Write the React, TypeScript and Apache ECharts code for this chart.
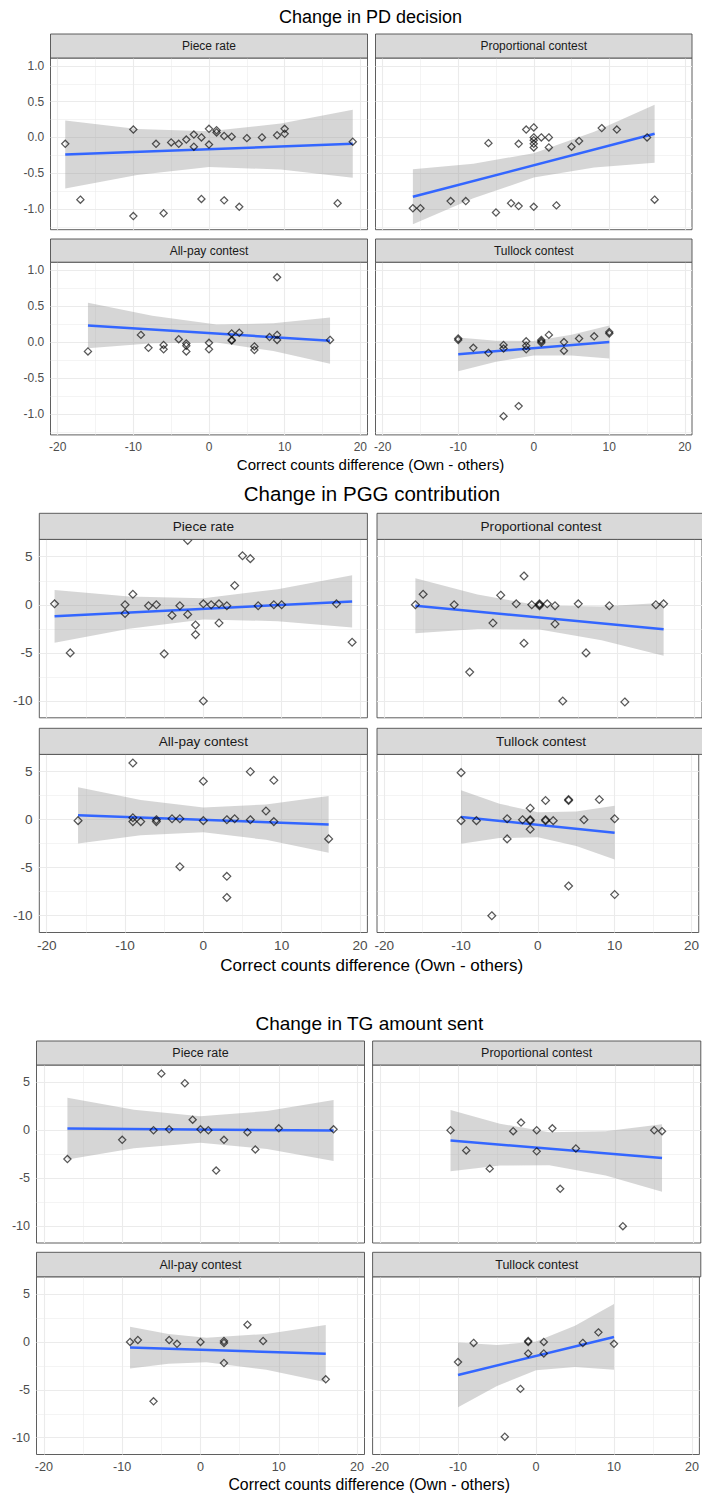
import React, { useEffect, useRef } from "react";
import * as echarts from "echarts";

const FONT = '"Liberation Sans", Arial, Helvetica, sans-serif';

// ---- axis ticks / labels ----
const xTickValues = [-20, -10, 0, 10, 20];
const xMinorValues = [-15, -5, 5, 15];
const pdTickValues = [-1, -0.5, 0, 0.5, 1];
const pdMinorValues = [-1.25, -0.75, -0.25, 0.25, 0.75];
const moneyTickValues = [-10, -5, 0, 5];
const moneyMinorValues = [-7.5, -2.5, 2.5];

const facetLabels = ["Piece rate", "Proportional contest", "All-pay contest", "Tullock contest"];
const figureTitles = ["Change in PD decision", "Change in PGG contribution", "Change in TG amount sent"];
const xAxisTitle = "Correct counts difference (Own - others)";

// ---- Figure 1: PD decision ----
const pdPiecePts = [[-19,-0.09],[-17,-0.87],[-10,0.11],[-10,-1.1],[-7,-0.09],[-6,-1.06],[-5,-0.07],[-4,-0.09],[-3,-0.03],[-2,0.04],[-2,-0.13],[-1,0.0],[-1,-0.86],[0,0.12],[0,-0.1],[1,0.1],[1,0.07],[2,-0.88],[2,0.02],[3,0.01],[4,-0.97],[5,-0.01],[7,0.0],[9,0.03],[10,0.12],[10,0.05],[17,-0.92],[19,-0.06]];
const pdPieceFit = [[-19,-0.24],[19,-0.09]];
const pdPieceBandX = [-19,-9.5,0,9.5,19];
const pdPieceBandHi = [0.235,0.119,0.085,0.194,0.385];
const pdPieceBandLo = [-0.715,-0.524,-0.415,-0.449,-0.565];

const pdPropPts = [[-16,-0.99],[-15,-0.99],[-11,-0.89],[-9,-0.89],[-6,-0.08],[-5,-1.05],[-3,-0.92],[-2,-0.09],[-2,-0.96],[-1,0.11],[0,0.14],[0,0.0],[0,-0.04],[0,-0.09],[0,-0.14],[0,-0.97],[1,0.0],[2,0.0],[2,-0.14],[3,-0.95],[5,-0.13],[6,-0.05],[9,0.13],[11,0.11],[15,0.0],[16,-0.87]];
const pdPropFit = [[-16,-0.83],[16,0.05]];
const pdPropBandX = [-16,-8,0,8,16];
const pdPropBandHi = [-0.445,-0.368,-0.22,0.08,0.455];
const pdPropBandLo = [-1.215,-0.852,-0.56,-0.42,-0.355];

const pdAllPts = [[-16,-0.13],[-9,0.1],[-8,-0.08],[-6,-0.04],[-6,-0.1],[-4,0.04],[-3,-0.02],[-3,-0.05],[-3,-0.13],[0,-0.01],[0,-0.1],[3,0.12],[3,0.03],[3,0.02],[4,0.13],[6,-0.06],[6,-0.11],[8,0.07],[9,0.9],[9,0.1],[9,0.03],[16,0.03]];
const pdAllFit = [[-16,0.23],[16,0.02]];
const pdAllBandX = [-16,-7.5,1,8.5,16];
const pdAllBandHi = [0.545,0.365,0.243,0.262,0.34];
const pdAllBandLo = [-0.085,-0.017,-0.007,-0.124,-0.3];

const pdTullPts = [[-10,0.05],[-10,0.03],[-8,-0.08],[-6,-0.15],[-4,-0.04],[-4,-0.09],[-4,-1.03],[-2,-0.89],[-1,0.01],[-1,-0.05],[-1,-0.1],[1,0.01],[1,0.03],[1,-0.01],[2,0.1],[4,0.0],[4,-0.12],[6,0.05],[8,0.08],[10,0.14],[10,0.12]];
const pdTullFit = [[-10,-0.17],[10,0.0]];
const pdTullBandX = [-10,-5,0,5,10];
const pdTullBandHi = [0.065,0.019,0.015,0.102,0.23];
const pdTullBandLo = [-0.405,-0.274,-0.185,-0.187,-0.23];

// ---- Figure 2: PGG contribution ----
const pggPiecePts = [[-19,0.1],[-17,-5],[-10,-0.9],[-10,0],[-9,1.1],[-7,-0.1],[-6,0],[-5,-5.1],[-4,-1.1],[-3,-0.1],[-2,6.7],[-2,-1.0],[-1,-2.1],[-1,-3.1],[0,0.1],[0,-10],[1,0],[2,0.1],[2,-1.9],[3,-0.1],[4,2.0],[5,5.1],[6,4.8],[7,-0.1],[9,0.0],[10,0],[17,0.1],[19,-3.9]];
const pggPieceFit = [[-19,-1.2],[19,0.35]];
const pggPieceBandX = [-19,-9.5,0,9.5,19];
const pggPieceBandHi = [1.54,0.856,0.675,1.623,3.07];
const pggPieceBandLo = [-3.94,-2.48,-1.525,-1.698,-2.37];

const pggPropPts = [[-16,0],[-15,1.1],[-11,0],[-9,-7],[-6,-1.9],[-5,1.0],[-3,0.1],[-2,3.0],[-2,-4],[-1,0],[0,0],[0,0.1],[0,-0.1],[1,0.1],[2,-2.0],[2,-0.1],[3,-10],[5,0.1],[6,-5],[9,-0.1],[11,-10.1],[15,0],[16,0.1]];
const pggPropFit = [[-16,-0.1],[16,-2.55]];
const pggPropBandX = [-16,-8,0,8,16];
const pggPropBandHi = [2.76,1.08,-0.075,-0.19,0.2];
const pggPropBandLo = [-2.96,-2.51,-2.575,-3.69,-5.3];

const pggAllPts = [[-16,-0.1],[-9,5.9],[-9,0.2],[-9,-0.2],[-8,-0.2],[-6,0],[-6,-0.2],[-4,0.1],[-3,0.1],[-3,-4.9],[0,4.0],[0,-0.1],[3,0],[3,-5.9],[3,-8.1],[4,0.1],[6,5.0],[6,0],[8,0.9],[9,4.1],[9,-0.2],[16,-2.0]];
const pggAllFit = [[-16,0.45],[16,-0.49]];
const pggAllBandX = [-16,-8,0,8,16];
const pggAllBandHi = [3.39,2.056,1.26,1.59,2.46];
const pggAllBandLo = [-2.49,-1.626,-1.3,-2.1,-3.44];

const pggTullPts = [[-10,4.9],[-10,-0.1],[-8,-0.1],[-6,-10],[-4,-2.0],[-4,0.1],[-2,0],[-1,1.2],[-1,0],[-1,-0.1],[-1,-1.0],[1,2.0],[1,0],[1,-0.1],[2,-0.1],[4,2.1],[4,2.0],[4,-6.9],[6,0],[8,2.1],[10,0.1],[10,-7.8]];
const pggTullFit = [[-10,0.28],[10,-1.35]];
const pggTullBandX = [-10,-5,0,5,10];
const pggTullBandHi = [3.06,1.66,0.765,0.855,1.45];
const pggTullBandLo = [-2.5,-1.92,-1.835,-2.74,-4.15];

// ---- Figure 3: TG amount sent ----
const tgPiecePts = [[-17,-3.0],[-10,-1.0],[-6,0.0],[-5,5.9],[-4,0.1],[-2,4.9],[-1,1.1],[0,0.1],[1,0.0],[2,-4.2],[3,-1.0],[6,-0.2],[7,-2.0],[10,0.2],[17,0.1]];
const tgPieceFit = [[-17,0.17],[17,-0.03]];
const tgPieceBandX = [-17,-8.5,0,8.5,17];
const tgPieceBandHi = [3.39,2.125,1.45,2.005,3.14];
const tgPieceBandLo = [-3.05,-1.885,-1.31,-1.965,-3.2];

const tgPropPts = [[-11,0.0],[-9,-2.1],[-6,-4.0],[-3,-0.1],[-2,0.8],[0,0.0],[0,-2.2],[2,0.2],[3,-6.1],[5,-1.9],[11,-10],[15,0.0],[16,-0.1]];
const tgPropFit = [[-11,-1.08],[16,-2.89]];
const tgPropBandX = [-11,-4.7,1.6,8.8,16];
const tgPropBandHi = [2.11,0.68,-0.205,-0.1,0.63];
const tgPropBandLo = [-4.27,-3.684,-3.645,-4.713,-6.41];

const tgAllPts = [[-9,0.0],[-8,0.2],[-6,-6.2],[-4,0.2],[-3,-0.2],[0,0.0],[3,-0.1],[3,-2.2],[3,0.1],[6,1.8],[8,0.1],[16,-3.9]];
const tgAllFit = [[-9,-0.59],[16,-1.22]];
const tgAllBandX = [-9,-4.1,0.75,8.4,16];
const tgAllBandHi = [1.59,0.841,0.444,0.837,1.78];
const tgAllBandLo = [-2.77,-2.267,-2.116,-2.893,-4.22];

const tgTullPts = [[-10,-2.1],[-8,-0.1],[-4,-9.9],[-2,-4.9],[-1,0.1],[-1,0.0],[-1,-1.2],[1,-1.2],[1,0.0],[6,-0.1],[8,1.0],[10,-0.2]];
const tgTullFit = [[-10,-3.45],[10,0.52]];
const tgTullBandX = [-10,-5,0,5,10];
const tgTullBandHi = [-0.07,-0.327,0.035,1.679,3.95];
const tgTullBandLo = [-6.83,-4.589,-2.965,-2.624,-2.91];

// ---- layout (positions / sizes / styles) ----
const X_MIN = -20.95;
const X_MAX = 20.95;

const LAYOUT = [
  { titleX: 370.5, titleY: 17, titleSize: 18, axisTitleX: 370.5, axisTitleY: 464, axisTitleSize: 15, stripSize: 12, tickSize: 12,
    cols: [[50.5, 367.5], [375.5, 692]], rows: [[34, 58, 229.7], [239, 262.2, 434.9]],
    yMin: -1.29, yMax: 1.11, yTicks: pdTickValues, yMinor: pdMinorValues, digits: 1, sym: 7.2, tick: 3.8 },
  { titleX: 372, titleY: 493, titleSize: 20.5, axisTitleX: 371.7, axisTitleY: 965, axisTitleSize: 17, stripSize: 13.6, tickSize: 13.6,
    cols: [[39.3, 367.4], [377, 705]], rows: [[513.3, 539.4, 717.8], [728.3, 754.4, 932.5]],
    yMin: -11.75, yMax: 6.8, yTicks: moneyTickValues, yMinor: moneyMinorValues, digits: 0, sym: 7.8, tick: 4.2 },
  { titleX: 369.3, titleY: 1023, titleSize: 19, axisTitleX: 369.2, axisTitleY: 1484, axisTitleSize: 15.8, stripSize: 12.5, tickSize: 12.6,
    cols: [[36.5, 364.5], [372.6, 700.8]], rows: [[1041, 1065, 1243], [1252.3, 1276.8, 1454.5]],
    yMin: -11.75, yMax: 6.8, yTicks: moneyTickValues, yMinor: moneyMinorValues, digits: 0, sym: 7.2, tick: 3.9 },
];

const PANELS = [
  { fig: 0, row: 0, col: 0, label: facetLabels[0], pts: pdPiecePts, fit: pdPieceFit, bx: pdPieceBandX, hi: pdPieceBandHi, lo: pdPieceBandLo },
  { fig: 0, row: 0, col: 1, label: facetLabels[1], pts: pdPropPts, fit: pdPropFit, bx: pdPropBandX, hi: pdPropBandHi, lo: pdPropBandLo },
  { fig: 0, row: 1, col: 0, label: facetLabels[2], pts: pdAllPts, fit: pdAllFit, bx: pdAllBandX, hi: pdAllBandHi, lo: pdAllBandLo },
  { fig: 0, row: 1, col: 1, label: facetLabels[3], pts: pdTullPts, fit: pdTullFit, bx: pdTullBandX, hi: pdTullBandHi, lo: pdTullBandLo },
  { fig: 1, row: 0, col: 0, label: facetLabels[0], pts: pggPiecePts, fit: pggPieceFit, bx: pggPieceBandX, hi: pggPieceBandHi, lo: pggPieceBandLo },
  { fig: 1, row: 0, col: 1, label: facetLabels[1], pts: pggPropPts, fit: pggPropFit, bx: pggPropBandX, hi: pggPropBandHi, lo: pggPropBandLo },
  { fig: 1, row: 1, col: 0, label: facetLabels[2], pts: pggAllPts, fit: pggAllFit, bx: pggAllBandX, hi: pggAllBandHi, lo: pggAllBandLo },
  { fig: 1, row: 1, col: 1, label: facetLabels[3], pts: pggTullPts, fit: pggTullFit, bx: pggTullBandX, hi: pggTullBandHi, lo: pggTullBandLo },
  { fig: 2, row: 0, col: 0, label: facetLabels[0], pts: tgPiecePts, fit: tgPieceFit, bx: tgPieceBandX, hi: tgPieceBandHi, lo: tgPieceBandLo },
  { fig: 2, row: 0, col: 1, label: facetLabels[1], pts: tgPropPts, fit: tgPropFit, bx: tgPropBandX, hi: tgPropBandHi, lo: tgPropBandLo },
  { fig: 2, row: 1, col: 0, label: facetLabels[2], pts: tgAllPts, fit: tgAllFit, bx: tgAllBandX, hi: tgAllBandHi, lo: tgAllBandLo },
  { fig: 2, row: 1, col: 1, label: facetLabels[3], pts: tgTullPts, fit: tgTullFit, bx: tgTullBandX, hi: tgTullBandHi, lo: tgTullBandLo },
];

const BORDER = "#4d4d4d";
const GRID_LINE = "#ebebeb";

function buildOption() {
  const grids: any[] = [];
  const xAxes: any[] = [];
  const yAxes: any[] = [];
  const series: any[] = [];
  const graphics: any[] = [];

  PANELS.forEach((p, i) => {
    const L = LAYOUT[p.fig];
    const [x0, x1] = L.cols[p.col];
    const [sTop, top, bottom] = L.rows[p.row];
    const showX = p.row === 1;
    const showY = p.col === 0;

    grids.push({
      left: x0, top, width: x1 - x0, height: bottom - top,
      show: true, borderColor: BORDER, borderWidth: 0.9, backgroundColor: "#ffffff",
    });

    xAxes.push({
      type: "value", gridIndex: i, min: X_MIN, max: X_MAX,
      axisLine: { show: false }, splitLine: { show: false },
      axisTick: { show: showX, length: L.tick, lineStyle: { color: "#333333", width: 1 }, customValues: xTickValues },
      axisLabel: { show: showX, customValues: xTickValues, margin: L.tick + 2, fontSize: L.tickSize, color: "#4d4d4d", fontFamily: FONT },
    });

    yAxes.push({
      type: "value", gridIndex: i, min: L.yMin, max: L.yMax,
      axisLine: { show: false }, splitLine: { show: false },
      axisTick: { show: showY, length: L.tick, lineStyle: { color: "#333333", width: 1 }, customValues: L.yTicks },
      axisLabel: {
        show: showY, customValues: L.yTicks, margin: L.tick + 2.5, fontSize: L.tickSize, color: "#4d4d4d", fontFamily: FONT,
        formatter: (v: number) => (L.digits ? Number(v).toFixed(L.digits) : String(v)),
      },
    });

    const gridData: any[] = [];
    xTickValues.forEach((v) => gridData.push({ xAxis: v, lineStyle: { width: 1.1, color: GRID_LINE } }));
    xMinorValues.forEach((v) => gridData.push({ xAxis: v, lineStyle: { width: 0.55, color: GRID_LINE } }));
    L.yTicks.forEach((v) => gridData.push({ yAxis: v, lineStyle: { width: 1.1, color: GRID_LINE } }));
    L.yMinor.forEach((v) => gridData.push({ yAxis: v, lineStyle: { width: 0.55, color: GRID_LINE } }));

    const bx = p.bx, hi = p.hi, lo = p.lo;
    series.push({
      type: "custom", xAxisIndex: i, yAxisIndex: i, z: 2, silent: true,
      data: [[0, 0]],
      renderItem: (_params: any, api: any) => {
        const upper = bx.map((x, k) => api.coord([x, hi[k]]));
        const lower = bx.map((x, k) => api.coord([x, lo[k]])).reverse();
        return { type: "polygon", shape: { points: upper.concat(lower) }, style: { fill: "rgba(153,153,153,0.4)" } };
      },
    });

    series.push({
      type: "line", xAxisIndex: i, yAxisIndex: i, z: 3, silent: true,
      data: p.fit, symbol: "none", showSymbol: false,
      lineStyle: { color: "#3366FF", width: 2.5 },
    });

    series.push({
      type: "scatter", xAxisIndex: i, yAxisIndex: i, z: 4, silent: true,
      data: p.pts, symbol: "diamond", symbolSize: L.sym,
      itemStyle: { color: "rgba(0,0,0,0)", borderColor: "rgba(0,0,0,0.82)", borderWidth: 1.25 },
      markLine: {
        silent: true, z: 1, symbol: "none", animation: false,
        label: { show: false },
        lineStyle: { type: "solid", color: GRID_LINE, width: 1 },
        emphasis: { disabled: true },
        data: gridData,
      },
    });

    graphics.push({
      type: "rect", z: 100, silent: true,
      shape: { x: x0, y: sTop, width: x1 - x0, height: top - sTop },
      style: { fill: "#d9d9d9", stroke: BORDER, lineWidth: 0.9 },
    });
    graphics.push({
      type: "text", z: 101, silent: true,
      x: (x0 + x1) / 2, y: (sTop + top) / 2,
      style: { text: p.label, fontSize: L.stripSize, fontFamily: FONT, fill: "#1a1a1a", align: "center", verticalAlign: "middle" },
    });
  });

  LAYOUT.forEach((L, f) => {
    graphics.push({
      type: "text", z: 101, silent: true, x: L.titleX, y: L.titleY,
      style: { text: figureTitles[f], fontSize: L.titleSize, fontFamily: FONT, fill: "#000000", align: "center", verticalAlign: "middle" },
    });
    graphics.push({
      type: "text", z: 101, silent: true, x: L.axisTitleX, y: L.axisTitleY,
      style: { text: xAxisTitle, fontSize: L.axisTitleSize, fontFamily: FONT, fill: "#000000", align: "center", verticalAlign: "middle" },
    });
  });

  return {
    animation: false,
    backgroundColor: "#ffffff",
    textStyle: { fontFamily: FONT },
    grid: grids,
    xAxis: xAxes,
    yAxis: yAxes,
    series,
    graphic: graphics,
  };
}

export default function App() {
  const ref = useRef<HTMLDivElement>(null);
  useEffect(() => {
    document.body.style.margin = "0";
    const chart = echarts.init(ref.current as HTMLDivElement, null, { renderer: "svg", width: 702, height: 1497 });
    chart.setOption(buildOption() as any);
    return () => {
      chart.dispose();
    };
  }, []);
  return <div ref={ref} style={{ position: "absolute", left: 0, top: 0, width: 702, height: 1497, background: "#ffffff" }} />;
}
